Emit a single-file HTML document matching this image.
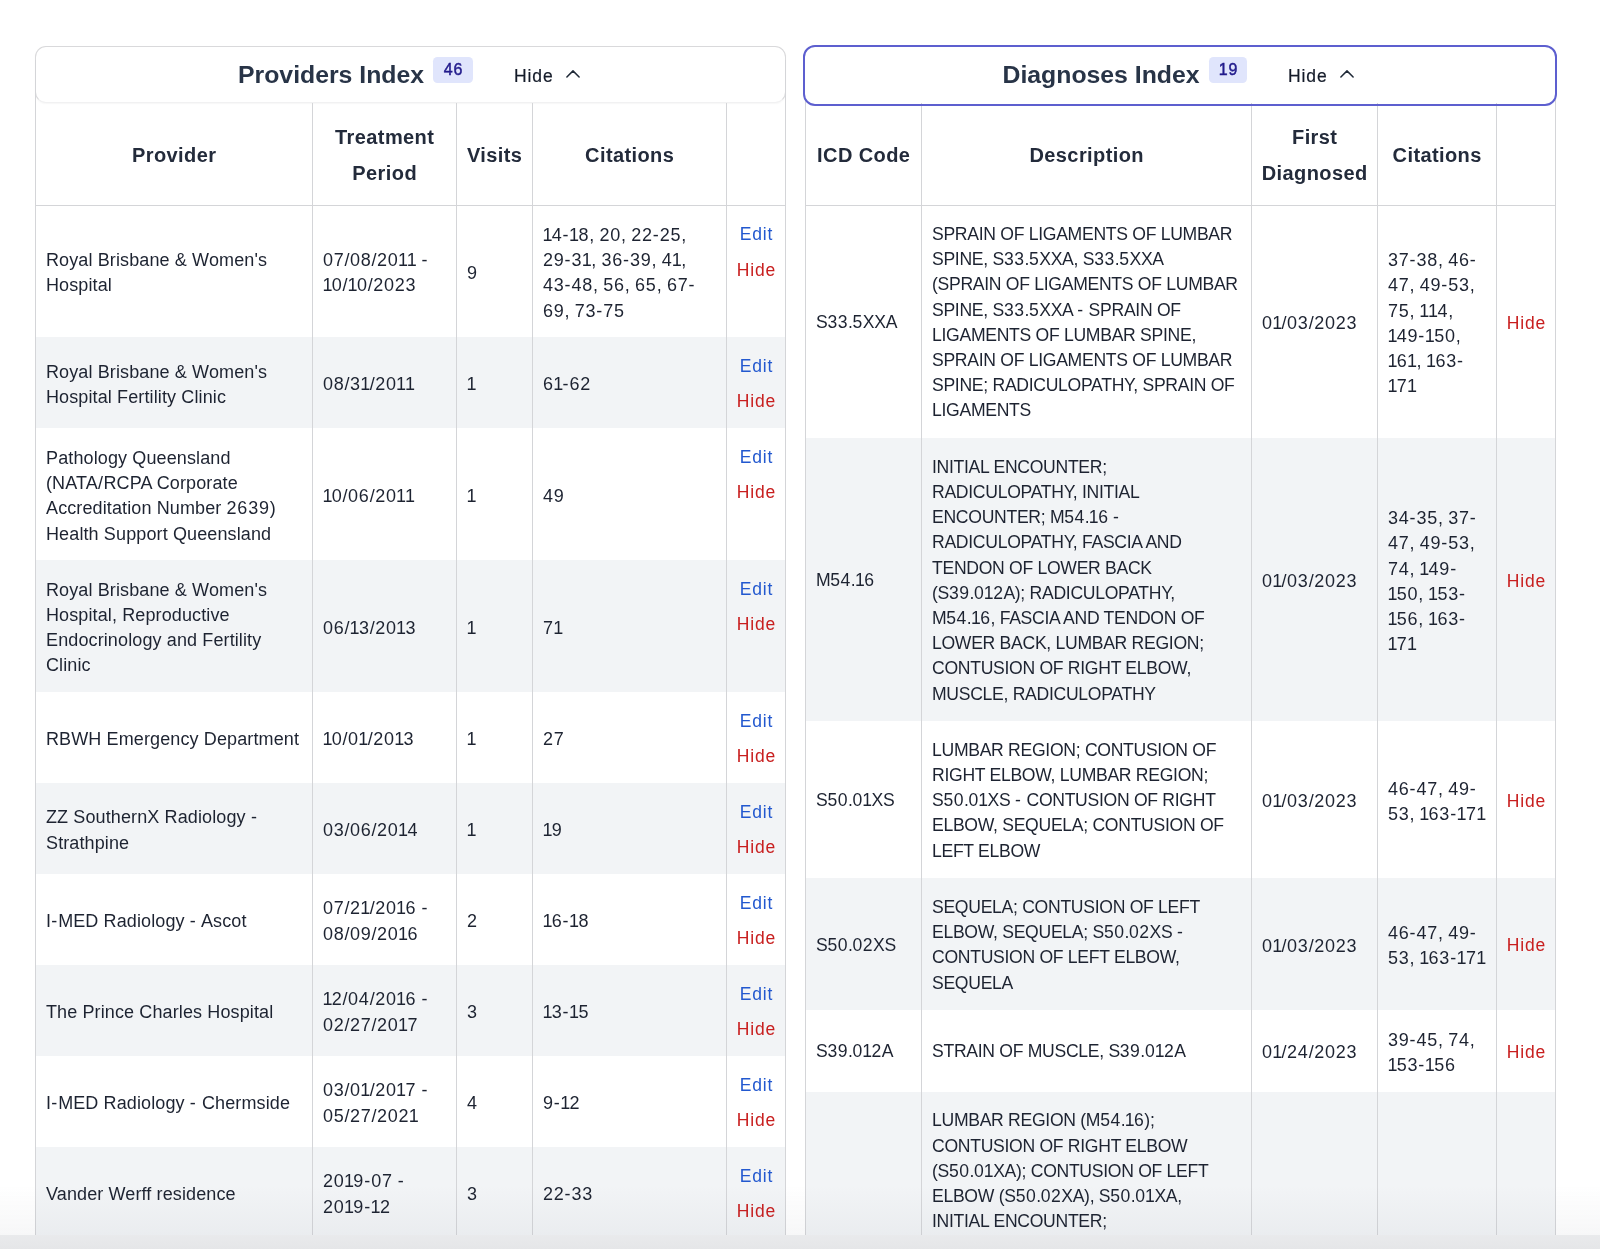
<!DOCTYPE html>
<html><head><meta charset="utf-8"><title>Index</title><style>
*{margin:0;padding:0;box-sizing:border-box}
html,body{width:1600px;height:1249px;overflow:hidden;background:#fff}
#root{position:absolute;left:0;top:0;width:1600px;height:1249px;will-change:transform}
body{position:relative;font-family:"Liberation Sans",sans-serif;color:#1d2331}
.stripe{position:absolute;background:#f2f4f6}
.vl{position:absolute;width:1px;background:#d4d5d8}
.hl{position:absolute;height:1px;background:#d4d5d8}
.cell{position:absolute;display:flex;flex-direction:column;justify-content:center;padding:0 10px;white-space:nowrap}
.th{font-weight:bold;font-size:20px;line-height:36px;text-align:center;align-items:center;color:#232b3b}
.td{font-size:18px;line-height:25.2px;letter-spacing:0.12px}
.t{position:relative}
.td .t{top:2px}
.th .t{top:0.75px;left:0.2px;letter-spacing:0.4px}
.d{letter-spacing:0.75px}
.o1{letter-spacing:-0.6px;margin-left:-0.6px}
.u1{letter-spacing:-0.5px;margin-left:-0.5px}
.sl{letter-spacing:0.5px}
.hy{letter-spacing:1px}
.du{letter-spacing:0.45px}
.up{letter-spacing:-0.3px;font-size:17.6px}
.td.up .t{top:1px}
.act{justify-content:flex-start;align-items:center;padding-top:16.35px;font-size:17.5px;line-height:25.2px;letter-spacing:0.8px;text-indent:0.8px}
.act .hide{margin-top:10.5px}
.act2{align-items:center;font-size:17.5px;line-height:25.2px;padding-top:3.5px;letter-spacing:0.8px;text-indent:0.8px}
.edit{color:#2258cf}
.hide{color:#c81e1e}
.card{position:absolute;background:#fff;border-radius:11px}
.card.left{left:35px;top:46px;width:751px;height:57px;border:1px solid #d9d9db;border-bottom-color:#f1f1f2;box-shadow:0 1px 1.5px rgba(0,0,0,0.035)}
.card.right{left:803px;top:44.5px;width:754px;height:61px;border:2.5px solid #5d5fcf;border-radius:12px;z-index:2;background:transparent}
.card.rightbg{left:803px;top:44.5px;width:754px;height:61px;border-radius:12px}
.ctitle{position:absolute;top:58px;font-size:24.8px;font-weight:bold;line-height:34px;color:#283447;white-space:nowrap}
.badge{position:absolute;top:57px;height:25.5px;border-radius:4.5px;background:#e0e5fc;color:#221b8c;font-size:16px;font-weight:normal;-webkit-text-stroke:0.45px #221b8c;line-height:25.5px;text-align:center;letter-spacing:0.8px;text-indent:0.8px}
.chide{position:absolute;top:63.75px;-webkit-text-stroke:0.2px #141b29;font-size:17.5px;line-height:24px;color:#141b29;white-space:nowrap;letter-spacing:0.9px}
.chev{position:absolute;top:70px;width:14px;height:8px;line-height:0}
.chev svg{display:block}
.bottomfade{position:absolute;left:0;top:1185px;width:1600px;height:50px;background:linear-gradient(to bottom,rgba(60,70,90,0),rgba(60,70,90,0.045))}
.bar{position:absolute;left:0;top:1234.5px;width:1600px;height:14.5px;background:linear-gradient(to bottom,#e9eaec,#e5e6e8)}
</style></head>
<body>
<div id="root">

<div class="card left"></div>
<div class="card rightbg"></div>
<div class="ctitle" style="left:238px">Providers Index</div>
<div class="badge" style="left:433px;width:40px">46</div>
<div class="chide" style="left:514px">Hide</div>
<div class="chev" style="left:566px"><svg width="14" height="8" viewBox="0 0 14 8"><path d="M0.9 7 L7 0.9 L13.1 7" fill="none" stroke="#1f2937" stroke-width="1.5" stroke-linecap="round" stroke-linejoin="round"/></svg></div>
<div class="ctitle" style="left:1002.5px">Diagnoses Index</div>
<div class="badge" style="left:1209px;width:38px">19</div>
<div class="chide" style="left:1288px">Hide</div>
<div class="chev" style="left:1340px"><svg width="14" height="8" viewBox="0 0 14 8"><path d="M0.9 7 L7 0.9 L13.1 7" fill="none" stroke="#1f2937" stroke-width="1.5" stroke-linecap="round" stroke-linejoin="round"/></svg></div>

<div class="stripe" style="left:35px;top:337.40px;width:750px;height:91.00px"></div><div class="stripe" style="left:35px;top:560.30px;width:750px;height:131.90px"></div><div class="stripe" style="left:35px;top:783.20px;width:750px;height:91.00px"></div><div class="stripe" style="left:35px;top:965.20px;width:750px;height:91.00px"></div><div class="stripe" style="left:35px;top:1147.20px;width:750px;height:91.00px"></div><div class="hl" style="left:35px;top:205px;width:751px"></div><div class="vl" style="left:35px;top:60px;height:1175px"></div><div class="vl" style="left:312px;top:103px;height:1132px"></div><div class="vl" style="left:456px;top:103px;height:1132px"></div><div class="vl" style="left:532px;top:103px;height:1132px"></div><div class="vl" style="left:726px;top:103px;height:1132px"></div><div class="vl" style="left:785px;top:60px;height:1175px"></div><div class="cell th" style="left:36px;top:103px;width:276px;height:102.5px"><div class="t">Provider</div></div><div class="cell th" style="left:313px;top:103px;width:143px;height:102.5px"><div class="t">Treatment<br>Period</div></div><div class="cell th" style="left:457px;top:103px;width:75px;height:102.5px"><div class="t">Visits</div></div><div class="cell th" style="left:533px;top:103px;width:193px;height:102.5px"><div class="t">Citations</div></div><div class="cell td" style="left:36px;top:205.50px;width:276px;height:131.90px"><div class="t">Royal Brisbane &amp; Women's<br>Hospital</div></div><div class="cell td" style="left:313px;top:205.50px;width:143px;height:131.90px"><div class="t"><span class="d">07</span><span class="sl">/</span><span class="d">08</span><span class="sl">/</span><span class="d">20</span><span class="o1">1</span><span class="o1">1</span> <span class="hy">-</span><br><span class="o1">1</span><span class="d">0</span><span class="sl">/</span><span class="o1">1</span><span class="d">0</span><span class="sl">/</span><span class="d">2023</span></div></div><div class="cell td" style="left:457px;top:205.50px;width:75px;height:131.90px"><div class="t"><span class="d">9</span></div></div><div class="cell td" style="left:533px;top:205.50px;width:193px;height:131.90px"><div class="t"><span class="o1">1</span><span class="d">4</span><span class="hy">-</span><span class="o1">1</span><span class="d">8</span>, <span class="d">20</span>, <span class="d">22</span><span class="hy">-</span><span class="d">25</span>,<br><span class="d">29</span><span class="hy">-</span><span class="d">3</span><span class="o1">1</span>, <span class="d">36</span><span class="hy">-</span><span class="d">39</span>, <span class="d">4</span><span class="o1">1</span>,<br><span class="d">43</span><span class="hy">-</span><span class="d">48</span>, <span class="d">56</span>, <span class="d">65</span>, <span class="d">67</span><span class="hy">-</span><br><span class="d">69</span>, <span class="d">73</span><span class="hy">-</span><span class="d">75</span></div></div><div class="cell act" style="left:727px;top:205.50px;width:58px;height:131.90px"><span class="edit">Edit</span><span class="hide">Hide</span></div><div class="cell td" style="left:36px;top:337.40px;width:276px;height:91.00px"><div class="t">Royal Brisbane &amp; Women's<br>Hospital Fertility Clinic</div></div><div class="cell td" style="left:313px;top:337.40px;width:143px;height:91.00px"><div class="t"><span class="d">08</span><span class="sl">/</span><span class="d">3</span><span class="o1">1</span><span class="sl">/</span><span class="d">20</span><span class="o1">1</span><span class="o1">1</span></div></div><div class="cell td" style="left:457px;top:337.40px;width:75px;height:91.00px"><div class="t"><span class="o1">1</span></div></div><div class="cell td" style="left:533px;top:337.40px;width:193px;height:91.00px"><div class="t"><span class="d">6</span><span class="o1">1</span><span class="hy">-</span><span class="d">62</span></div></div><div class="cell act" style="left:727px;top:337.40px;width:58px;height:91.00px"><span class="edit">Edit</span><span class="hide">Hide</span></div><div class="cell td" style="left:36px;top:428.40px;width:276px;height:131.90px"><div class="t">Pathology Queensland<br>(NATA<span class="sl">/</span>RCPA Corporate<br>Accreditation Number <span class="d">2639</span>)<br>Health Support Queensland</div></div><div class="cell td" style="left:313px;top:428.40px;width:143px;height:131.90px"><div class="t"><span class="o1">1</span><span class="d">0</span><span class="sl">/</span><span class="d">06</span><span class="sl">/</span><span class="d">20</span><span class="o1">1</span><span class="o1">1</span></div></div><div class="cell td" style="left:457px;top:428.40px;width:75px;height:131.90px"><div class="t"><span class="o1">1</span></div></div><div class="cell td" style="left:533px;top:428.40px;width:193px;height:131.90px"><div class="t"><span class="d">49</span></div></div><div class="cell act" style="left:727px;top:428.40px;width:58px;height:131.90px"><span class="edit">Edit</span><span class="hide">Hide</span></div><div class="cell td" style="left:36px;top:560.30px;width:276px;height:131.90px"><div class="t">Royal Brisbane &amp; Women's<br>Hospital, Reproductive<br>Endocrinology and Fertility<br>Clinic</div></div><div class="cell td" style="left:313px;top:560.30px;width:143px;height:131.90px"><div class="t"><span class="d">06</span><span class="sl">/</span><span class="o1">1</span><span class="d">3</span><span class="sl">/</span><span class="d">20</span><span class="o1">1</span><span class="d">3</span></div></div><div class="cell td" style="left:457px;top:560.30px;width:75px;height:131.90px"><div class="t"><span class="o1">1</span></div></div><div class="cell td" style="left:533px;top:560.30px;width:193px;height:131.90px"><div class="t"><span class="d">7</span><span class="o1">1</span></div></div><div class="cell act" style="left:727px;top:560.30px;width:58px;height:131.90px"><span class="edit">Edit</span><span class="hide">Hide</span></div><div class="cell td" style="left:36px;top:692.20px;width:276px;height:91.00px"><div class="t">RBWH Emergency Department</div></div><div class="cell td" style="left:313px;top:692.20px;width:143px;height:91.00px"><div class="t"><span class="o1">1</span><span class="d">0</span><span class="sl">/</span><span class="d">0</span><span class="o1">1</span><span class="sl">/</span><span class="d">20</span><span class="o1">1</span><span class="d">3</span></div></div><div class="cell td" style="left:457px;top:692.20px;width:75px;height:91.00px"><div class="t"><span class="o1">1</span></div></div><div class="cell td" style="left:533px;top:692.20px;width:193px;height:91.00px"><div class="t"><span class="d">27</span></div></div><div class="cell act" style="left:727px;top:692.20px;width:58px;height:91.00px"><span class="edit">Edit</span><span class="hide">Hide</span></div><div class="cell td" style="left:36px;top:783.20px;width:276px;height:91.00px"><div class="t">ZZ SouthernX Radiology <span class="hy">-</span><br>Strathpine</div></div><div class="cell td" style="left:313px;top:783.20px;width:143px;height:91.00px"><div class="t"><span class="d">03</span><span class="sl">/</span><span class="d">06</span><span class="sl">/</span><span class="d">20</span><span class="o1">1</span><span class="d">4</span></div></div><div class="cell td" style="left:457px;top:783.20px;width:75px;height:91.00px"><div class="t"><span class="o1">1</span></div></div><div class="cell td" style="left:533px;top:783.20px;width:193px;height:91.00px"><div class="t"><span class="o1">1</span><span class="d">9</span></div></div><div class="cell act" style="left:727px;top:783.20px;width:58px;height:91.00px"><span class="edit">Edit</span><span class="hide">Hide</span></div><div class="cell td" style="left:36px;top:874.20px;width:276px;height:91.00px"><div class="t">I<span class="hy">-</span>MED Radiology <span class="hy">-</span> Ascot</div></div><div class="cell td" style="left:313px;top:874.20px;width:143px;height:91.00px"><div class="t"><span class="d">07</span><span class="sl">/</span><span class="d">2</span><span class="o1">1</span><span class="sl">/</span><span class="d">20</span><span class="o1">1</span><span class="d">6</span> <span class="hy">-</span><br><span class="d">08</span><span class="sl">/</span><span class="d">09</span><span class="sl">/</span><span class="d">20</span><span class="o1">1</span><span class="d">6</span></div></div><div class="cell td" style="left:457px;top:874.20px;width:75px;height:91.00px"><div class="t"><span class="d">2</span></div></div><div class="cell td" style="left:533px;top:874.20px;width:193px;height:91.00px"><div class="t"><span class="o1">1</span><span class="d">6</span><span class="hy">-</span><span class="o1">1</span><span class="d">8</span></div></div><div class="cell act" style="left:727px;top:874.20px;width:58px;height:91.00px"><span class="edit">Edit</span><span class="hide">Hide</span></div><div class="cell td" style="left:36px;top:965.20px;width:276px;height:91.00px"><div class="t">The Prince Charles Hospital</div></div><div class="cell td" style="left:313px;top:965.20px;width:143px;height:91.00px"><div class="t"><span class="o1">1</span><span class="d">2</span><span class="sl">/</span><span class="d">04</span><span class="sl">/</span><span class="d">20</span><span class="o1">1</span><span class="d">6</span> <span class="hy">-</span><br><span class="d">02</span><span class="sl">/</span><span class="d">27</span><span class="sl">/</span><span class="d">20</span><span class="o1">1</span><span class="d">7</span></div></div><div class="cell td" style="left:457px;top:965.20px;width:75px;height:91.00px"><div class="t"><span class="d">3</span></div></div><div class="cell td" style="left:533px;top:965.20px;width:193px;height:91.00px"><div class="t"><span class="o1">1</span><span class="d">3</span><span class="hy">-</span><span class="o1">1</span><span class="d">5</span></div></div><div class="cell act" style="left:727px;top:965.20px;width:58px;height:91.00px"><span class="edit">Edit</span><span class="hide">Hide</span></div><div class="cell td" style="left:36px;top:1056.20px;width:276px;height:91.00px"><div class="t">I<span class="hy">-</span>MED Radiology <span class="hy">-</span> Chermside</div></div><div class="cell td" style="left:313px;top:1056.20px;width:143px;height:91.00px"><div class="t"><span class="d">03</span><span class="sl">/</span><span class="d">0</span><span class="o1">1</span><span class="sl">/</span><span class="d">20</span><span class="o1">1</span><span class="d">7</span> <span class="hy">-</span><br><span class="d">05</span><span class="sl">/</span><span class="d">27</span><span class="sl">/</span><span class="d">202</span><span class="o1">1</span></div></div><div class="cell td" style="left:457px;top:1056.20px;width:75px;height:91.00px"><div class="t"><span class="d">4</span></div></div><div class="cell td" style="left:533px;top:1056.20px;width:193px;height:91.00px"><div class="t"><span class="d">9</span><span class="hy">-</span><span class="o1">1</span><span class="d">2</span></div></div><div class="cell act" style="left:727px;top:1056.20px;width:58px;height:91.00px"><span class="edit">Edit</span><span class="hide">Hide</span></div><div class="cell td" style="left:36px;top:1147.20px;width:276px;height:91.00px"><div class="t">Vander Werff residence</div></div><div class="cell td" style="left:313px;top:1147.20px;width:143px;height:91.00px"><div class="t"><span class="d">20</span><span class="o1">1</span><span class="d">9</span><span class="hy">-</span><span class="d">07</span> <span class="hy">-</span><br><span class="d">20</span><span class="o1">1</span><span class="d">9</span><span class="hy">-</span><span class="o1">1</span><span class="d">2</span></div></div><div class="cell td" style="left:457px;top:1147.20px;width:75px;height:91.00px"><div class="t"><span class="d">3</span></div></div><div class="cell td" style="left:533px;top:1147.20px;width:193px;height:91.00px"><div class="t"><span class="d">22</span><span class="hy">-</span><span class="d">33</span></div></div><div class="cell act" style="left:727px;top:1147.20px;width:58px;height:91.00px"><span class="edit">Edit</span><span class="hide">Hide</span></div><div class="stripe" style="left:805px;top:438.20px;width:750px;height:283.10px"></div><div class="stripe" style="left:805px;top:878.40px;width:750px;height:131.90px"></div><div class="stripe" style="left:805px;top:1091.80px;width:750px;height:207.50px"></div><div class="hl" style="left:805px;top:205px;width:751px"></div><div class="vl" style="left:805px;top:100px;height:1135px"></div><div class="vl" style="left:921px;top:103px;height:1132px"></div><div class="vl" style="left:1251px;top:103px;height:1132px"></div><div class="vl" style="left:1377px;top:103px;height:1132px"></div><div class="vl" style="left:1496px;top:103px;height:1132px"></div><div class="vl" style="left:1555px;top:100px;height:1135px"></div><div class="cell th" style="left:806px;top:103px;width:115px;height:102.5px"><div class="t">ICD Code</div></div><div class="cell th" style="left:922px;top:103px;width:329px;height:102.5px"><div class="t">Description</div></div><div class="cell th" style="left:1252px;top:103px;width:125px;height:102.5px"><div class="t">First<br>Diagnosed</div></div><div class="cell th" style="left:1378px;top:103px;width:118px;height:102.5px"><div class="t">Citations</div></div><div class="cell td up" style="left:806px;top:205.50px;width:115px;height:232.70px"><div class="t">S<span class="du">33</span>.<span class="du">5</span>XXA</div></div><div class="cell td up" style="left:922px;top:205.50px;width:329px;height:232.70px"><div class="t">SPRAIN OF LIGAMENTS OF LUMBAR<br>SPINE, S<span class="du">33</span>.<span class="du">5</span>XXA, S<span class="du">33</span>.<span class="du">5</span>XXA<br>(SPRAIN OF LIGAMENTS OF LUMBAR<br>SPINE, S<span class="du">33</span>.<span class="du">5</span>XXA <span class="hy">-</span> SPRAIN OF<br>LIGAMENTS OF LUMBAR SPINE,<br>SPRAIN OF LIGAMENTS OF LUMBAR<br>SPINE; RADICULOPATHY, SPRAIN OF<br>LIGAMENTS</div></div><div class="cell td" style="left:1252px;top:205.50px;width:125px;height:232.70px"><div class="t"><span class="d">0</span><span class="o1">1</span><span class="sl">/</span><span class="d">03</span><span class="sl">/</span><span class="d">2023</span></div></div><div class="cell td" style="left:1378px;top:205.50px;width:118px;height:232.70px"><div class="t"><span class="d">37</span><span class="hy">-</span><span class="d">38</span>, <span class="d">46</span><span class="hy">-</span><br><span class="d">47</span>, <span class="d">49</span><span class="hy">-</span><span class="d">53</span>,<br><span class="d">75</span>, <span class="o1">1</span><span class="o1">1</span><span class="d">4</span>,<br><span class="o1">1</span><span class="d">49</span><span class="hy">-</span><span class="o1">1</span><span class="d">50</span>,<br><span class="o1">1</span><span class="d">6</span><span class="o1">1</span>, <span class="o1">1</span><span class="d">63</span><span class="hy">-</span><br><span class="o1">1</span><span class="d">7</span><span class="o1">1</span></div></div><div class="cell act2" style="left:1497px;top:205.50px;width:58px;height:232.70px"><span class="hide">Hide</span></div><div class="cell td up" style="left:806px;top:438.20px;width:115px;height:283.10px"><div class="t">M<span class="du">54</span>.<span class="u1">1</span><span class="du">6</span></div></div><div class="cell td up" style="left:922px;top:438.20px;width:329px;height:283.10px"><div class="t">INITIAL ENCOUNTER;<br>RADICULOPATHY, INITIAL<br>ENCOUNTER; M<span class="du">54</span>.<span class="u1">1</span><span class="du">6</span> <span class="hy">-</span><br>RADICULOPATHY, FASCIA AND<br>TENDON OF LOWER BACK<br>(S<span class="du">39</span>.<span class="du">0</span><span class="u1">1</span><span class="du">2</span>A); RADICULOPATHY,<br>M<span class="du">54</span>.<span class="u1">1</span><span class="du">6</span>, FASCIA AND TENDON OF<br>LOWER BACK, LUMBAR REGION;<br>CONTUSION OF RIGHT ELBOW,<br>MUSCLE, RADICULOPATHY</div></div><div class="cell td" style="left:1252px;top:438.20px;width:125px;height:283.10px"><div class="t"><span class="d">0</span><span class="o1">1</span><span class="sl">/</span><span class="d">03</span><span class="sl">/</span><span class="d">2023</span></div></div><div class="cell td" style="left:1378px;top:438.20px;width:118px;height:283.10px"><div class="t"><span class="d">34</span><span class="hy">-</span><span class="d">35</span>, <span class="d">37</span><span class="hy">-</span><br><span class="d">47</span>, <span class="d">49</span><span class="hy">-</span><span class="d">53</span>,<br><span class="d">74</span>, <span class="o1">1</span><span class="d">49</span><span class="hy">-</span><br><span class="o1">1</span><span class="d">50</span>, <span class="o1">1</span><span class="d">53</span><span class="hy">-</span><br><span class="o1">1</span><span class="d">56</span>, <span class="o1">1</span><span class="d">63</span><span class="hy">-</span><br><span class="o1">1</span><span class="d">7</span><span class="o1">1</span></div></div><div class="cell act2" style="left:1497px;top:438.20px;width:58px;height:283.10px"><span class="hide">Hide</span></div><div class="cell td up" style="left:806px;top:721.30px;width:115px;height:157.10px"><div class="t">S<span class="du">50</span>.<span class="du">0</span><span class="u1">1</span>XS</div></div><div class="cell td up" style="left:922px;top:721.30px;width:329px;height:157.10px"><div class="t">LUMBAR REGION; CONTUSION OF<br>RIGHT ELBOW, LUMBAR REGION;<br>S<span class="du">50</span>.<span class="du">0</span><span class="u1">1</span>XS <span class="hy">-</span> CONTUSION OF RIGHT<br>ELBOW, SEQUELA; CONTUSION OF<br>LEFT ELBOW</div></div><div class="cell td" style="left:1252px;top:721.30px;width:125px;height:157.10px"><div class="t"><span class="d">0</span><span class="o1">1</span><span class="sl">/</span><span class="d">03</span><span class="sl">/</span><span class="d">2023</span></div></div><div class="cell td" style="left:1378px;top:721.30px;width:118px;height:157.10px"><div class="t"><span class="d">46</span><span class="hy">-</span><span class="d">47</span>, <span class="d">49</span><span class="hy">-</span><br><span class="d">53</span>, <span class="o1">1</span><span class="d">63</span><span class="hy">-</span><span class="o1">1</span><span class="d">7</span><span class="o1">1</span></div></div><div class="cell act2" style="left:1497px;top:721.30px;width:58px;height:157.10px"><span class="hide">Hide</span></div><div class="cell td up" style="left:806px;top:878.40px;width:115px;height:131.90px"><div class="t">S<span class="du">50</span>.<span class="du">02</span>XS</div></div><div class="cell td up" style="left:922px;top:878.40px;width:329px;height:131.90px"><div class="t">SEQUELA; CONTUSION OF LEFT<br>ELBOW, SEQUELA; S<span class="du">50</span>.<span class="du">02</span>XS <span class="hy">-</span><br>CONTUSION OF LEFT ELBOW,<br>SEQUELA</div></div><div class="cell td" style="left:1252px;top:878.40px;width:125px;height:131.90px"><div class="t"><span class="d">0</span><span class="o1">1</span><span class="sl">/</span><span class="d">03</span><span class="sl">/</span><span class="d">2023</span></div></div><div class="cell td" style="left:1378px;top:878.40px;width:118px;height:131.90px"><div class="t"><span class="d">46</span><span class="hy">-</span><span class="d">47</span>, <span class="d">49</span><span class="hy">-</span><br><span class="d">53</span>, <span class="o1">1</span><span class="d">63</span><span class="hy">-</span><span class="o1">1</span><span class="d">7</span><span class="o1">1</span></div></div><div class="cell act2" style="left:1497px;top:878.40px;width:58px;height:131.90px"><span class="hide">Hide</span></div><div class="cell td up" style="left:806px;top:1010.30px;width:115px;height:81.50px"><div class="t">S<span class="du">39</span>.<span class="du">0</span><span class="u1">1</span><span class="du">2</span>A</div></div><div class="cell td up" style="left:922px;top:1010.30px;width:329px;height:81.50px"><div class="t">STRAIN OF MUSCLE, S<span class="du">39</span>.<span class="du">0</span><span class="u1">1</span><span class="du">2</span>A</div></div><div class="cell td" style="left:1252px;top:1010.30px;width:125px;height:81.50px"><div class="t"><span class="d">0</span><span class="o1">1</span><span class="sl">/</span><span class="d">24</span><span class="sl">/</span><span class="d">2023</span></div></div><div class="cell td" style="left:1378px;top:1010.30px;width:118px;height:81.50px"><div class="t"><span class="d">39</span><span class="hy">-</span><span class="d">45</span>, <span class="d">74</span>,<br><span class="o1">1</span><span class="d">53</span><span class="hy">-</span><span class="o1">1</span><span class="d">56</span></div></div><div class="cell act2" style="left:1497px;top:1010.30px;width:58px;height:81.50px"><span class="hide">Hide</span></div><div class="cell td up" style="left:922px;top:1091.80px;width:329px;height:207.50px"><div class="t">LUMBAR REGION (M<span class="du">54</span>.<span class="u1">1</span><span class="du">6</span>);<br>CONTUSION OF RIGHT ELBOW<br>(S<span class="du">50</span>.<span class="du">0</span><span class="u1">1</span>XA); CONTUSION OF LEFT<br>ELBOW (S<span class="du">50</span>.<span class="du">02</span>XA), S<span class="du">50</span>.<span class="du">0</span><span class="u1">1</span>XA,<br>INITIAL ENCOUNTER;<br>RADICULOPATHY, INITIAL<br>ENCOUNTER</div></div>
<div class="card right"></div>
<div class="bottomfade"></div>
<div class="bar"></div>
</div>
</body></html>
